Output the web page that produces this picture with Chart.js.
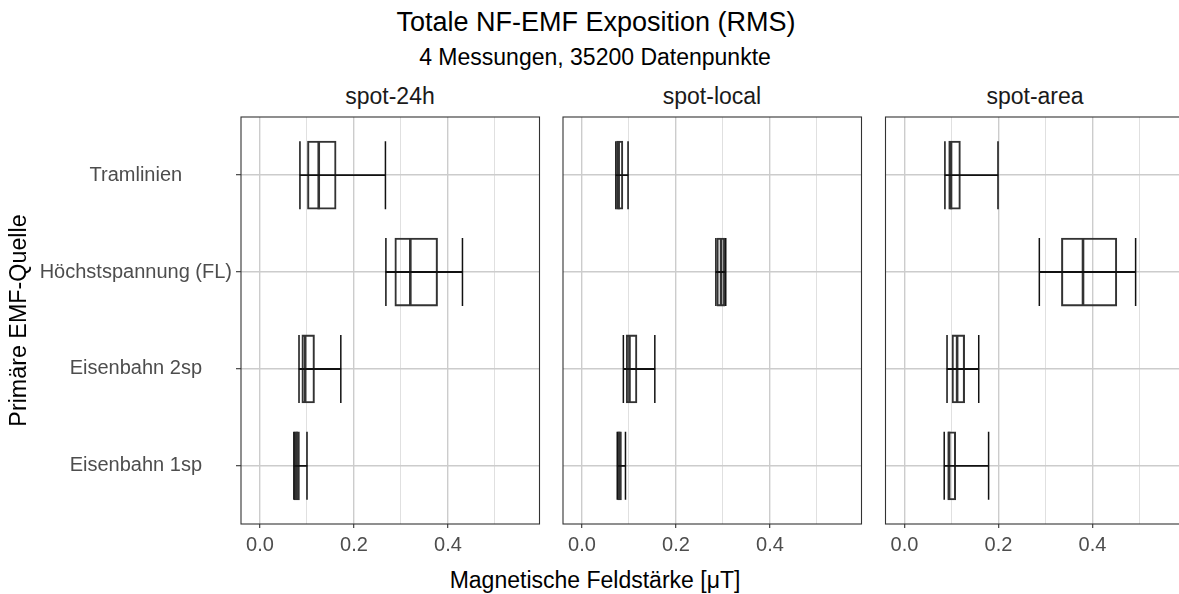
<!DOCTYPE html>
<html>
<head>
<meta charset="utf-8">
<script src="https://cdn.jsdelivr.net/npm/chart.js@4.4.1/dist/chart.umd.min.js"></script>
<style>
html,body{margin:0;padding:0;background:#fff;overflow:hidden;width:1179px;height:594px;position:relative;font-family:"Liberation Sans",Arial,sans-serif;}
.t{position:absolute;text-align:center;white-space:nowrap;line-height:1;}
canvas{position:absolute;top:110px;}
</style>
</head>
<body>
<div class="t" style="left:196px;width:800px;top:9px;font-size:27px;color:#000;">Totale NF-EMF Exposition (RMS)</div>
<div class="t" style="left:195px;width:800px;top:46px;font-size:23px;color:#000;">4 Messungen, 35200 Datenpunkte</div>
<div class="t" style="left:290px;width:200px;top:85px;font-size:23px;color:#1a1a1a;">spot-24h</div>
<div class="t" style="left:612px;width:200px;top:85px;font-size:23px;color:#1a1a1a;">spot-local</div>
<div class="t" style="left:935px;width:200px;top:85px;font-size:23px;color:#1a1a1a;">spot-area</div>
<div class="t" style="left:195px;width:800px;top:569px;font-size:23px;color:#000;">Magnetische Feldstärke [μT]</div>
<canvas id="c1" width="546" height="484" style="left:0px;width:546px;height:484px;"></canvas>
<canvas id="c2" width="312" height="484" style="left:556px;width:312px;height:484px;"></canvas>
<canvas id="c3" width="310" height="484" style="left:880px;width:310px;height:484px;"></canvas>
<script>
// Categories, bottom to top (ggplot factor order)
const categories = ['Eisenbahn 1sp', 'Eisenbahn 2sp', 'Höchstspannung (FL)', 'Tramlinien'];
const panelNames = ['spot-24h', 'spot-local', 'spot-area'];

// spot-24h
const spot24hMin    = [0.072, 0.083, 0.268, 0.085];
const spot24hQ1     = [0.073, 0.089, 0.287, 0.101];
const spot24hMedian = [0.078, 0.096, 0.320, 0.125];
const spot24hQ3     = [0.084, 0.116, 0.378, 0.162];
const spot24hMax    = [0.100, 0.172, 0.431, 0.267];

// spot-local
const spotLocalMin    = [0.075, 0.088, 0.285, 0.072];
const spotLocalQ1     = [0.076, 0.094, 0.287, 0.0735];
const spotLocalMedian = [0.079, 0.101, 0.296, 0.078];
const spotLocalQ3     = [0.084, 0.117, 0.304, 0.087];
const spotLocalMax    = [0.0925, 0.155, 0.306, 0.098];

// spot-area
const spotAreaMin    = [0.0845, 0.0905, 0.287, 0.086];
const spotAreaQ1     = [0.092, 0.101, 0.334, 0.094];
const spotAreaMedian = [0.095, 0.112, 0.380, 0.099];
const spotAreaQ3     = [0.109, 0.128, 0.452, 0.119];
const spotAreaMax    = [0.179, 0.158, 0.492, 0.199];

// x axis ticks
const xTicks = [0, 0.1, 0.2, 0.3, 0.4, 0.5];
const xTickLabels = ['0.0', '', '0.2', '', '0.4', ''];
const xMin = -0.0405, xMax = 0.595;
const yMin = 0.4, yMax = 4.6;

const FONT = '"Liberation Sans", Arial, sans-serif';

const panelBorder = {
  id: 'panelBorder',
  afterDraw(chart) {
    const a = chart.chartArea, ctx = chart.ctx;
    ctx.save();
    ctx.strokeStyle = '#333333';
    ctx.lineWidth = 1.1;
    ctx.strokeRect(a.left, a.top, a.right - a.left, a.bottom - a.top);
    ctx.restore();
  }
};

function isMajor(v) { return Math.round(v * 10) % 2 === 0; }

function makePanel(id, mins, q1, med, q3, maxs, first, padL, padR) {
  const pts = (arr) => arr.map((v, i) => ({ x: v, y: i + 1 }));
  const ranges = (a, b) => a.map((v, i) => ({ y: i + 1, x: [v, b[i]] }));
  new Chart(document.getElementById(id), {
    type: 'bar',
    data: {
      datasets: [
        { type: 'scatter', label: 'caps', data: pts(mins).concat(pts(maxs)),
          pointStyle: 'line', pointRotation: 90, pointRadius: 34,
          pointBorderColor: '#111111', pointBorderWidth: 1.5, pointBackgroundColor: '#111111', order: 0 },
        { type: 'bar', label: 'whisker', indexAxis: 'y', data: ranges(mins, maxs),
          backgroundColor: '#111111', borderWidth: 0, grouped: false,
          barThickness: 1.3, maxBarThickness: 1.3, order: 1 },
        { type: 'scatter', label: 'median', data: pts(med),
          pointStyle: 'line', pointRotation: 90, pointRadius: 34,
          pointBorderColor: '#333333', pointBorderWidth: 2.6, order: 2 },
        { type: 'bar', label: 'box', indexAxis: 'y', data: ranges(q1, q3),
          backgroundColor: 'rgba(255,255,255,0)', borderColor: '#333333', borderWidth: 1.4,
          borderSkipped: false, grouped: false, barThickness: 68, maxBarThickness: 68, order: 3 }
      ]
    },
    options: {
      indexAxis: 'y',
      responsive: false,
      animation: false,
      events: [],
      layout: { autoPadding: false, padding: { top: 7, bottom: 0, left: padL, right: padR } },
      plugins: { legend: { display: false }, tooltip: { enabled: false }, title: { display: false } },
      scales: {
        x: {
          type: 'linear', min: xMin, max: xMax, offset: false,
          afterBuildTicks: (s) => { s.ticks = xTicks.map(v => ({ value: v })); },
          afterFit: (s) => { s.height = 70; s.paddingLeft = 0; s.paddingRight = 0; },
          border: { display: false },
          grid: {
            offset: false,
            color: (c) => isMajor(c.tick.value) ? '#cccccc' : '#e0e0e0',
            lineWidth: (c) => isMajor(c.tick.value) ? 1.4 : 1.0,
            tickColor: (c) => isMajor(c.tick.value) ? '#333333' : 'rgba(0,0,0,0)',
            tickLength: 4, tickWidth: 1.1, drawTicks: true
          },
          ticks: {
            autoSkip: false, maxRotation: 0, padding: 5, color: '#4d4d4d',
            font: { family: FONT, size: 20 },
            callback: (v, i) => xTickLabels[i]
          }
        },
        y: {
          type: 'linear', min: yMin, max: yMax, offset: false,
          afterBuildTicks: (s) => { s.ticks = categories.map((c, i) => ({ value: i + 1 })); },
          afterFit: (s) => { s.width = first ? 241 : 0; s.paddingTop = 0; s.paddingBottom = 0; },
          border: { display: false },
          grid: { offset: false, color: '#cccccc', lineWidth: 1.4, drawTicks: first, tickLength: 5, tickColor: '#333333', tickWidth: 1.1 },
          ticks: {
            display: first, autoSkip: false, padding: 4, color: '#4d4d4d', crossAlign: 'center',
            font: { family: FONT, size: 20 },
            callback: (v, i) => categories[i]
          },
          title: { display: first, text: 'Primäre EMF-Quelle', color: '#000000',
                   font: { family: FONT, size: 23.3 }, padding: { top: 6, bottom: 0 } }
        }
      }
    },
    plugins: [panelBorder]
  });
}

makePanel('c1', spot24hMin, spot24hQ1, spot24hMedian, spot24hQ3, spot24hMax, true, 0, 6.5);
makePanel('c2', spotLocalMin, spotLocalQ1, spotLocalMedian, spotLocalQ3, spotLocalMax, false, 7, 6.5);
makePanel('c3', spotAreaMin, spotAreaQ1, spotAreaMedian, spotAreaQ3, spotAreaMax, false, 5.5, 6);
</script>
</body>
</html>
